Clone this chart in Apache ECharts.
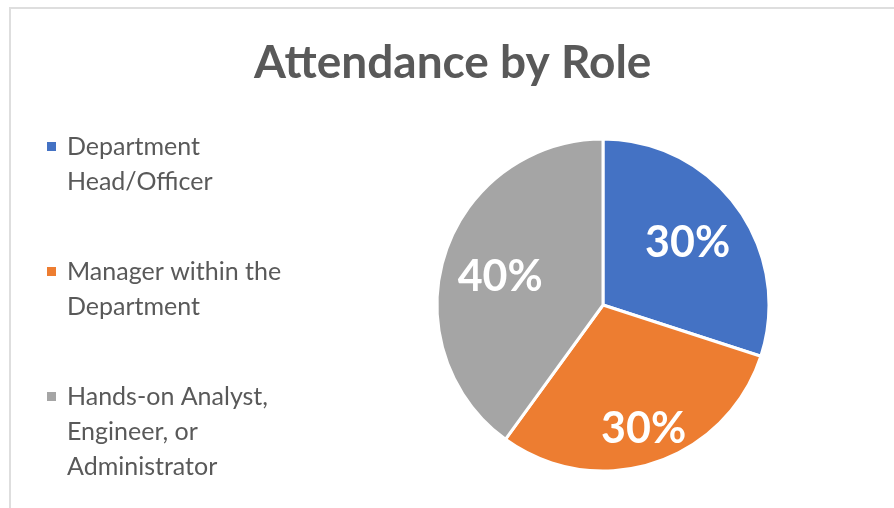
<!DOCTYPE html>
<html>
<head>
<meta charset="utf-8">
<script src="https://cdn.jsdelivr.net/npm/echarts@6/dist/echarts.min.js"></script>
<style>
  html, body { margin: 0; padding: 0; background: #fff; }
  #frame { position: absolute; left: 9px; top: 7px; width: 900px; height: 520px; border: 2px solid #dedede; box-sizing: border-box; }
  #chart { position: absolute; left: 0; top: 0; width: 894px; height: 508px; }
</style>
</head>
<body>
<div id="frame"></div>
<div id="chart"></div>
<script>
// 参会角色占比
const roles = ['Department\nHead/Officer', 'Manager within the\nDepartment', 'Hands-on Analyst,\nEngineer, or\nAdministrator'];
const shares = [30, 30, 40];
const colors = ['#4472C4', '#ED7D31', '#A5A5A5'];
const markerKeys = ['mb', 'mo', 'mg'];
// 标签微调（Excel 的 bestFit 位置）
const labelNudge = [[15, -11], [14, 42], [-21, -1]];

let chart = echarts.init(document.getElementById('chart'));

let rich = {
  t: { fontSize: 25, lineHeight: 35, color: '#595959', fontFamily: 'Lato' },
  sp: { width: 20, height: 9, lineHeight: 35 }
};
markerKeys.forEach(function (k, i) {
  rich[k] = { width: 9, height: 9, backgroundColor: colors[i], lineHeight: 35 };
});
rich.gap = { width: 11, height: 9, lineHeight: 35 };

let data = [];
for (let i = 0; i < roles.length; i++) {
  data.push({
    name: roles[i],
    value: shares[i],
    itemStyle: { color: colors[i] },
    label: { offset: labelNudge[i] }
  });
}

chart.setOption({
  animation: false,
  title: {
    text: 'Attendance by Role',
    left: 254,
    top: 40,
    padding: 0,
    textStyle: { fontFamily: 'Lato', fontSize: 46, fontWeight: 'bold', color: '#595959' }
  },
  legend: {
    orient: 'vertical',
    left: 42,
    top: 134,
    padding: 0,
    icon: 'none',
    itemWidth: 0,
    itemGap: 65,
    selectedMode: false,
    data: roles,
    formatter: function (name) {
      let idx = roles.indexOf(name);
      let lines = name.split('\n');
      return lines.map(function (l, j) {
        return (j === 0 ? '{' + markerKeys[idx] + '|}{gap|}' : '{sp|}') + '{t|' + l + '}';
      }).join('\n');
    },
    textStyle: { rich: rich }
  },
  series: [{
    type: 'pie',
    center: [603, 305],
    radius: 166,
    startAngle: 90,
    clockwise: true,
    silent: true,
    itemStyle: { borderColor: '#fff', borderWidth: 3 },
    label: {
      position: 'inside',
      formatter: '{c}%',
      color: '#fff',
      fontFamily: 'Lato',
      fontSize: 43,
      fontWeight: 'bold'
    },
    labelLine: { show: false },
    data: data
  }]
});
</script>
</body>
</html>
